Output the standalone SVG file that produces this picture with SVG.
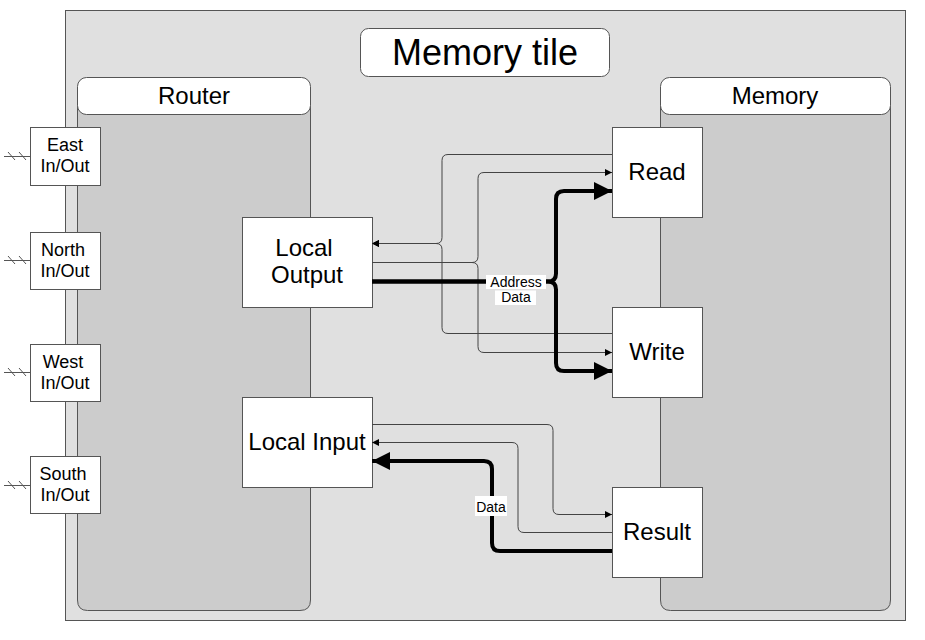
<svg xmlns="http://www.w3.org/2000/svg" width="925" height="640" viewBox="0 0 925 640">
<defs>
<style>
text{font-family:"Liberation Sans",Arial,sans-serif;fill:#000;text-anchor:middle}
.box{fill:#fff;stroke:#555;stroke-width:1}
.cont{fill:#ccc;stroke:#555;stroke-width:1}
.hdr{fill:#fff;stroke:#555;stroke-width:1}
.thin{fill:none;stroke:#444;stroke-width:1}
.thick{fill:none;stroke:#000;stroke-width:4}
.stub{fill:none;stroke:#555;stroke-width:1}
.lbl{fill:#fff;stroke:none}
.f24{font-size:24px}
.f18{font-size:18px}
.f14{font-size:14px}
</style>
<marker id="sa" viewBox="0 0 10 10" refX="10" refY="5" markerWidth="8" markerHeight="7" markerUnits="userSpaceOnUse" orient="auto">
<path d="M0,0 L10,5 L0,10 Z" fill="#000"/>
</marker>
<marker id="ba" viewBox="0 0 10 10" refX="10" refY="5" markerWidth="18" markerHeight="19" markerUnits="userSpaceOnUse" orient="auto">
<path d="M0,0 L10,5 L0,10 Z" fill="#000"/>
</marker>
</defs>

<g id="tile">
<rect x="65.5" y="10.5" width="840" height="610" fill="#e0e0e0" stroke="#555"/>
</g>
<g id="title">
<rect x="360.5" y="28.5" width="249" height="48" rx="8" class="hdr"/>
<text x="485" y="65" font-size="36">Memory tile</text>
</g>

<g id="router">
<path d="M77.5,100 V600 Q77.5,610.5 87.5,610.5 H300 Q310.5,610.5 310.5,600 V100 Z" class="cont"/>
<rect x="77.5" y="77.5" width="233" height="37" rx="9" class="hdr"/>
<text x="194" y="104" class="f24">Router</text>
</g>

<g id="memory">
<path d="M660.5,100 V600 Q660.5,610.5 670.5,610.5 H880 Q890.5,610.5 890.5,600 V100 Z" class="cont"/>
<rect x="660.5" y="77.5" width="230" height="37" rx="9" class="hdr"/>
<text x="775" y="104" class="f24">Memory</text>
</g>

<g id="east">
<path d="M4,156.5 H30 M8,152 L15,160 M19,152 L26,160" class="stub"/>
<rect x="30.5" y="127.5" width="70" height="58" class="box"/>
<text x="65" y="151" class="f18">East</text>
<text x="65" y="172" class="f18">In/Out</text>
</g>
<g id="north">
<path d="M4,260.5 H30 M8,256 L15,264 M19,256 L26,264" class="stub"/>
<rect x="30.5" y="232.5" width="70" height="57" class="box"/>
<text x="63" y="255.5" class="f18">North</text>
<text x="65" y="276.5" class="f18">In/Out</text>
</g>
<g id="west">
<path d="M4,372.5 H30 M8,368 L15,376 M19,368 L26,376" class="stub"/>
<rect x="30.5" y="344.5" width="70" height="57" class="box"/>
<text x="63" y="367.5" class="f18">West</text>
<text x="65" y="388.5" class="f18">In/Out</text>
</g>
<g id="south">
<path d="M4,485.5 H30 M8,481 L15,489 M19,481 L26,489" class="stub"/>
<rect x="30.5" y="456.5" width="70" height="57" class="box"/>
<text x="63" y="479.5" class="f18">South</text>
<text x="65" y="500.5" class="f18">In/Out</text>
</g>

<g id="local-output">
<rect x="242.5" y="217.5" width="130" height="90" class="box"/>
<text x="304" y="256" class="f24">Local</text>
<text x="307" y="283" class="f24">Output</text>
</g>
<g id="local-input">
<rect x="242.5" y="397.5" width="130" height="90" class="box"/>
<text x="307" y="450" class="f24">Local Input</text>
</g>
<g id="read">
<rect x="612.5" y="127.5" width="90" height="90" class="box"/>
<text x="657" y="180" class="f24">Read</text>
</g>
<g id="write">
<rect x="612.5" y="307.5" width="90" height="90" class="box"/>
<text x="657" y="360" class="f24">Write</text>
</g>
<g id="result">
<rect x="612.5" y="487.5" width="90" height="90" class="box"/>
<text x="657" y="540" class="f24">Result</text>
</g>

<g id="connectors">
<path d="M612,154.5 H448 Q442,154.5 442,160.5 V237.5 Q442,243.5 436,243.5 H372" class="thin" marker-end="url(#sa)"/>
<path d="M612,333.5 H448 Q442,333.5 442,327.5 V249.5 Q442,243.5 436,243.5 H372" class="thin" marker-end="url(#sa)"/>
<path d="M372,262.5 H472 Q478,262.5 478,256.5 V178.5 Q478,172.5 484,172.5 H612" class="thin" marker-end="url(#sa)"/>
<path d="M372,262.5 H472 Q478,262.5 478,268.5 V346.5 Q478,352.5 484,352.5 H612" class="thin" marker-end="url(#sa)"/>
<path d="M372,281.5 H548 Q556,281.5 556,273.5 V199 Q556,191 564,191 H612" class="thick" marker-end="url(#ba)"/>
<path d="M372,281.5 H548 Q556,281.5 556,289.5 V363 Q556,371 564,371 H612" class="thick" marker-end="url(#ba)"/>
<path d="M372,424.5 H547 Q553,424.5 553,430.5 V508.5 Q553,514.5 559,514.5 H612" class="thin" marker-end="url(#sa)"/>
<path d="M612,532.5 H524 Q518,532.5 518,526.5 V448.5 Q518,442.5 512,442.5 H372" class="thin" marker-end="url(#sa)"/>
<path d="M612,551 H500 Q492,551 492,543 V469 Q492,461 484,461 H372" class="thick" marker-end="url(#ba)"/>
<rect x="486" y="275" width="60" height="14" class="lbl"/>
<rect x="495" y="290.5" width="41" height="14.5" class="lbl"/>
<text x="516" y="287" class="f14">Address</text>
<text x="516" y="302" class="f14">Data</text>
<rect x="475" y="496" width="32" height="20" class="lbl"/>
<text x="491" y="512" class="f14">Data</text>
</g>
</svg>
